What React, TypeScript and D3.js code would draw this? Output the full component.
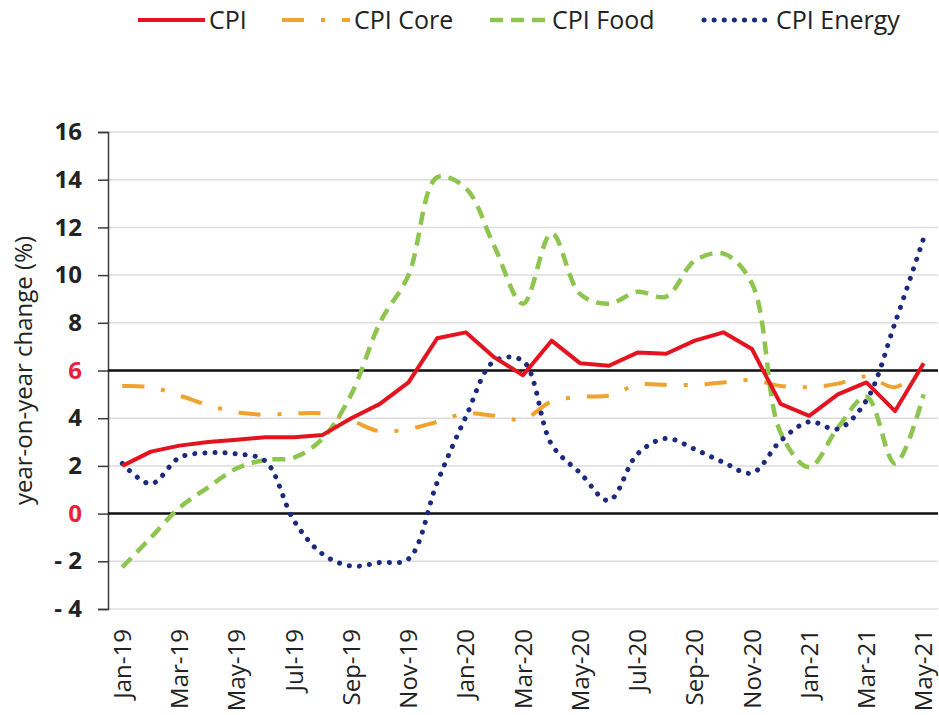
import React, { useRef, useEffect } from "react";
import * as d3 from "d3";

const MONTHS = [
  "Jan-19", "Feb-19", "Mar-19", "Apr-19", "May-19", "Jun-19", "Jul-19", "Aug-19", "Sep-19", "Oct-19", "Nov-19", "Dec-19",
  "Jan-20", "Feb-20", "Mar-20", "Apr-20", "May-20", "Jun-20", "Jul-20", "Aug-20", "Sep-20", "Oct-20", "Nov-20", "Dec-20",
  "Jan-21", "Feb-21", "Mar-21", "Apr-21", "May-21",
];

const CPI = [2.0, 2.6, 2.85, 3.0, 3.1, 3.2, 3.2, 3.3, 4.0, 4.6, 5.5, 7.35, 7.6, 6.55, 5.8, 7.25, 6.3, 6.2, 6.75, 6.7, 7.25, 7.6, 6.9, 4.6, 4.1, 5.0, 5.5, 4.3, 6.3];
const CPI_CORE = [5.35, 5.3, 4.95, 4.55, 4.25, 4.15, 4.2, 4.2, 3.9, 3.45, 3.55, 3.85, 4.2, 4.1, 3.95, 4.7, 4.9, 4.95, 5.4, 5.4, 5.4, 5.5, 5.6, 5.35, 5.3, 5.45, 5.75, 5.3, 6.1];
const CPI_FOOD = [-2.25, -1.0, 0.25, 1.1, 1.9, 2.25, 2.35, 3.15, 5.0, 8.0, 10.0, 14.1, 13.65, 11.2, 8.8, 11.75, 9.2, 8.8, 9.3, 9.1, 10.6, 10.9, 9.65, 3.4, 1.95, 3.6, 4.9, 2.1, 5.0];
const CPI_ENERGY = [2.1, 1.25, 2.35, 2.55, 2.5, 2.2, -0.3, -1.7, -2.2, -2.05, -1.9, 1.3, 4.05, 6.4, 6.4, 2.9, 1.7, 0.55, 2.5, 3.15, 2.7, 2.15, 1.7, 3.05, 3.85, 3.55, 4.75, 8.0, 11.55];

const Y_TICKS = [-4, -2, 0, 2, 4, 6, 8, 10, 12, 14, 16];
const REF_LINES = [0, 6];

const SERIES = [
  { name: "CPI Core", values: CPI_CORE, color: "#f0a22e", width: 4, dash: "22 17 4 17", cap: "butt", smooth: true },
  { name: "CPI Food", values: CPI_FOOD, color: "#8dc54e", width: 4.5, dash: "13 8", cap: "butt", smooth: true },
  { name: "CPI Energy", values: CPI_ENERGY, color: "#1b2a7c", width: 5, dash: "0.1 10", cap: "round", smooth: true },
  { name: "CPI", values: CPI, color: "#e3141f", width: 4, dash: null, cap: "butt", smooth: false },
];

const LEGEND = [
  { name: "CPI", x: 138, len: 67 },
  { name: "CPI Core", x: 282, len: 68 },
  { name: "CPI Food", x: 490, len: 58 },
  { name: "CPI Energy", x: 704, len: 68 },
];

const FONT = "'Open Sans', 'Noto Sans', sans-serif";

export default function App() {
  const svgRef = useRef<SVGSVGElement>(null);
  const width = 939;
  const height = 715;

  useEffect(() => {
    if (!svgRef.current) return;
    const svg = d3.select(svgRef.current);
    svg.selectAll("*").remove();

    const left = 108;
    const right = 938;
    const top = 132;
    const bottom = 609;

    const x = d3.scalePoint<string>().domain(MONTHS).range([left, right]).padding(0.5);
    const y = d3.scaleLinear().domain([-4, 16]).range([bottom, top]);

    // gridlines
    svg.append("g")
      .selectAll("line")
      .data(Y_TICKS)
      .join("line")
      .attr("x1", left)
      .attr("x2", right)
      .attr("y1", (d) => y(d))
      .attr("y2", (d) => y(d))
      .attr("stroke", "#dcdcdc")
      .attr("stroke-width", 1.5);

    // y axis
    const yAxis = d3
      .axisLeft(y)
      .tickValues(Y_TICKS)
      .tickSize(10)
      .tickPadding(16)
      .tickFormat((d) => ((d as number) < 0 ? `- ${Math.abs(d as number)}` : `${d}`));
    const ya = svg.append("g").attr("transform", `translate(${left},0)`).call(yAxis);
    ya.select(".domain").attr("stroke", "#3a3a3a").attr("stroke-width", 1.5);
    ya.selectAll(".tick line").attr("stroke", "#3a3a3a").attr("stroke-width", 1.5);
    ya.selectAll<SVGTextElement, number>(".tick text")
      .style("font-family", FONT)
      .style("font-size", "24px")
      .style("font-weight", "bold")
      .attr("fill", (d) => (REF_LINES.includes(d) ? "#e8203a" : "#222"));

    // y title
    svg.append("text")
      .attr("transform", `translate(32,${(top + bottom) / 2}) rotate(-90)`)
      .attr("text-anchor", "middle")
      .style("font-family", FONT)
      .style("font-size", "24px")
      .attr("fill", "#222")
      .text("year-on-year change (%)");

    // x labels
    svg.append("g")
      .selectAll("text")
      .data(MONTHS.filter((_, i) => i % 2 === 0))
      .join("text")
      .attr("transform", (d) => `translate(${x(d)},629) rotate(-90)`)
      .attr("text-anchor", "end")
      .attr("dy", "0.36em")
      .style("font-family", FONT)
      .style("font-size", "24px")
      .attr("fill", "#222")
      .text((d) => d);

    // reference lines at 0 and 6
    svg.append("g")
      .selectAll("line")
      .data(REF_LINES)
      .join("line")
      .attr("x1", left)
      .attr("x2", right)
      .attr("y1", (d) => y(d))
      .attr("y2", (d) => y(d))
      .attr("stroke", "#111")
      .attr("stroke-width", 2.5);

    // series
    SERIES.forEach((s) => {
      const line = d3
        .line<number>()
        .x((_, i) => x(MONTHS[i]) as number)
        .y((d) => y(d))
        .curve(s.smooth ? d3.curveCatmullRom.alpha(0.5) : d3.curveLinear);
      const p = svg.append("path")
        .datum(s.values)
        .attr("d", line)
        .attr("fill", "none")
        .attr("stroke", s.color)
        .attr("stroke-width", s.width)
        .attr("stroke-linecap", s.cap)
        .attr("stroke-linejoin", "round");
      if (s.dash) p.attr("stroke-dasharray", s.dash);
    });

    // legend
    LEGEND.forEach((l) => {
      const s = SERIES.find((d) => d.name === l.name)!;
      const g = svg.append("g").attr("transform", `translate(${l.x},20)`);
      const ln = g.append("line")
        .attr("x1", 0)
        .attr("x2", l.len)
        .attr("y1", 0)
        .attr("y2", 0)
        .attr("stroke", s.color)
        .attr("stroke-width", s.width)
        .attr("stroke-linecap", s.cap);
      if (s.dash) ln.attr("stroke-dasharray", s.dash);
      g.append("text")
        .attr("x", l.len + 4)
        .attr("y", 0)
        .attr("dy", "0.35em")
        .style("font-family", FONT)
        .style("font-size", "25px")
        .attr("fill", "#222")
        .text(l.name);
    });
  }, []);

  return (
    <svg
      ref={svgRef}
      width={width}
      height={height}
      viewBox={`0 0 ${width} ${height}`}
      style={{ position: "absolute", left: 0, top: 0, background: "#fff" }}
    />
  );
}
